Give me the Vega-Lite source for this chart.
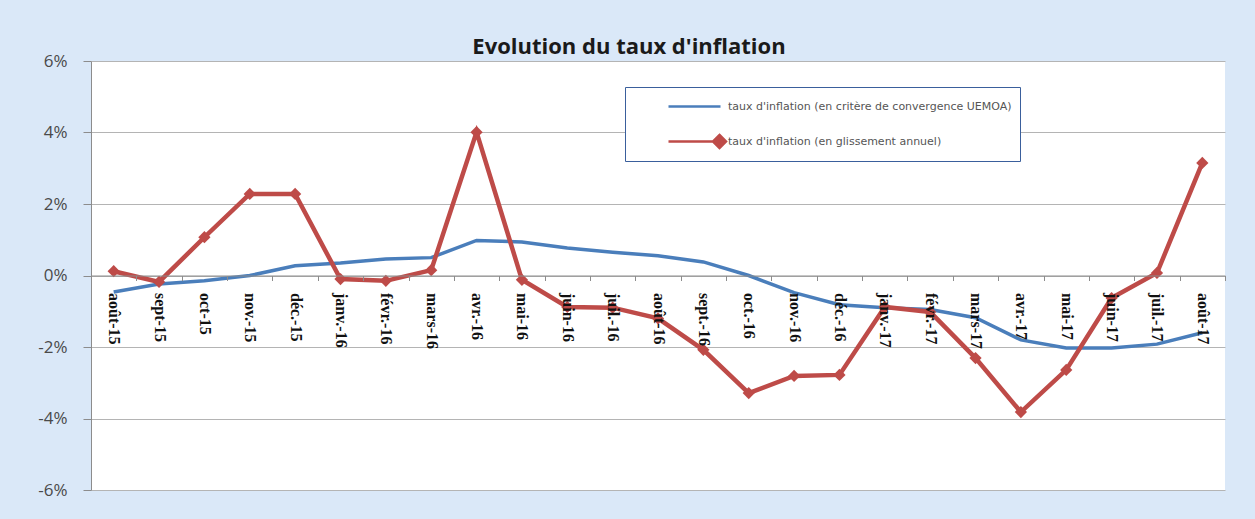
{
  "$schema": "https://vega.github.io/schema/vega-lite/v6.json",
  "autosize": {"type": "none"},
  "padding": {"left": 91, "top": 61, "right": 30, "bottom": 29},
  "width": 1134,
  "height": 429,
  "background": "#dae8f8",
  "title": {"text": "Evolution du taux d'inflation", "font": "Open Sans", "fontSize": 22, "fontWeight": "bold", "color": "#1a1a1a", "anchor": "middle", "dx": -29, "offset": -7},
  "config": {"view": {"fill": "white", "stroke": null}},
  "data": {"values": [
    {"mois": "août-15", "serie": "taux d'inflation (en critère de convergence UEMOA)", "v": -0.46},
    {"mois": "sept-15", "serie": "taux d'inflation (en critère de convergence UEMOA)", "v": -0.24},
    {"mois": "oct-15", "serie": "taux d'inflation (en critère de convergence UEMOA)", "v": -0.15},
    {"mois": "nov.-15", "serie": "taux d'inflation (en critère de convergence UEMOA)", "v": 0.0},
    {"mois": "déc.-15", "serie": "taux d'inflation (en critère de convergence UEMOA)", "v": 0.27},
    {"mois": "janv.-16", "serie": "taux d'inflation (en critère de convergence UEMOA)", "v": 0.35},
    {"mois": "févr.-16", "serie": "taux d'inflation (en critère de convergence UEMOA)", "v": 0.46},
    {"mois": "mars-16", "serie": "taux d'inflation (en critère de convergence UEMOA)", "v": 0.5},
    {"mois": "avr.-16", "serie": "taux d'inflation (en critère de convergence UEMOA)", "v": 0.98},
    {"mois": "mai-16", "serie": "taux d'inflation (en critère de convergence UEMOA)", "v": 0.94},
    {"mois": "juin-16", "serie": "taux d'inflation (en critère de convergence UEMOA)", "v": 0.77},
    {"mois": "juil.-16", "serie": "taux d'inflation (en critère de convergence UEMOA)", "v": 0.65},
    {"mois": "août-16", "serie": "taux d'inflation (en critère de convergence UEMOA)", "v": 0.55},
    {"mois": "sept.-16", "serie": "taux d'inflation (en critère de convergence UEMOA)", "v": 0.38},
    {"mois": "oct.-16", "serie": "taux d'inflation (en critère de convergence UEMOA)", "v": 0.0},
    {"mois": "nov.-16", "serie": "taux d'inflation (en critère de convergence UEMOA)", "v": -0.48},
    {"mois": "déc.-16", "serie": "taux d'inflation (en critère de convergence UEMOA)", "v": -0.82},
    {"mois": "janv.-17", "serie": "taux d'inflation (en critère de convergence UEMOA)", "v": -0.9},
    {"mois": "févr.-17", "serie": "taux d'inflation (en critère de convergence UEMOA)", "v": -0.95},
    {"mois": "mars-17", "serie": "taux d'inflation (en critère de convergence UEMOA)", "v": -1.18},
    {"mois": "avr.-17", "serie": "taux d'inflation (en critère de convergence UEMOA)", "v": -1.8},
    {"mois": "mai-17", "serie": "taux d'inflation (en critère de convergence UEMOA)", "v": -2.03},
    {"mois": "juin-17", "serie": "taux d'inflation (en critère de convergence UEMOA)", "v": -2.03},
    {"mois": "juil.-17", "serie": "taux d'inflation (en critère de convergence UEMOA)", "v": -1.92},
    {"mois": "août-17", "serie": "taux d'inflation (en critère de convergence UEMOA)", "v": -1.6},
    {"mois": "août-15", "serie": "taux d'inflation (en glissement annuel)", "v": 0.12},
    {"mois": "sept-15", "serie": "taux d'inflation (en glissement annuel)", "v": -0.18},
    {"mois": "oct-15", "serie": "taux d'inflation (en glissement annuel)", "v": 1.07},
    {"mois": "nov.-15", "serie": "taux d'inflation (en glissement annuel)", "v": 2.28},
    {"mois": "déc.-15", "serie": "taux d'inflation (en glissement annuel)", "v": 2.28},
    {"mois": "janv.-16", "serie": "taux d'inflation (en glissement annuel)", "v": -0.1},
    {"mois": "févr.-16", "serie": "taux d'inflation (en glissement annuel)", "v": -0.15},
    {"mois": "mars-16", "serie": "taux d'inflation (en glissement annuel)", "v": 0.15},
    {"mois": "avr.-16", "serie": "taux d'inflation (en glissement annuel)", "v": 4.01},
    {"mois": "mai-16", "serie": "taux d'inflation (en glissement annuel)", "v": -0.12},
    {"mois": "juin-16", "serie": "taux d'inflation (en glissement annuel)", "v": -0.88},
    {"mois": "juil.-16", "serie": "taux d'inflation (en glissement annuel)", "v": -0.9},
    {"mois": "août-16", "serie": "taux d'inflation (en glissement annuel)", "v": -1.2},
    {"mois": "sept.-16", "serie": "taux d'inflation (en glissement annuel)", "v": -2.08},
    {"mois": "oct.-16", "serie": "taux d'inflation (en glissement annuel)", "v": -3.29},
    {"mois": "nov.-16", "serie": "taux d'inflation (en glissement annuel)", "v": -2.81},
    {"mois": "déc.-16", "serie": "taux d'inflation (en glissement annuel)", "v": -2.78},
    {"mois": "janv.-17", "serie": "taux d'inflation (en glissement annuel)", "v": -0.88},
    {"mois": "févr.-17", "serie": "taux d'inflation (en glissement annuel)", "v": -1.02},
    {"mois": "mars-17", "serie": "taux d'inflation (en glissement annuel)", "v": -2.31},
    {"mois": "avr.-17", "serie": "taux d'inflation (en glissement annuel)", "v": -3.82},
    {"mois": "mai-17", "serie": "taux d'inflation (en glissement annuel)", "v": -2.64},
    {"mois": "juin-17", "serie": "taux d'inflation (en glissement annuel)", "v": -0.63},
    {"mois": "juil.-17", "serie": "taux d'inflation (en glissement annuel)", "v": 0.07},
    {"mois": "août-17", "serie": "taux d'inflation (en glissement annuel)", "v": 3.15}
  ]},
  "encoding": {
    "x": {"field": "mois", "type": "nominal", "sort": null,
      "axis": {"title": null, "zindex": 1, "offset": -214.5, "domainColor": "#8c8c8c", "domainWidth": 1, "tickBand": "extent", "tickColor": "#8c8c8c", "tickSize": 5,
        "labelAngle": 90, "labelAlign": "left", "labelBaseline": "middle", "labelPadding": 12, "labelFont": "Liberation Serif", "labelFontSize": 16, "labelFontWeight": "bold", "labelColor": "#111111", "grid": false}},
    "y": {"field": "v", "type": "quantitative",
      "scale": {"domain": [-6, 6], "nice": false},
      "axis": {"title": null, "values": [-6, -4, -2, 0, 2, 4, 6], "labelExpr": "datum.value + '%'", "labelFont": "Open Sans", "labelFontSize": 17, "labelColor": "#4a4a4a", "labelPadding": 16,
        "domainColor": "#8c8c8c", "tickColor": "#8c8c8c", "tickSize": 8, "gridColor": "#b4b4b4", "gridWidth": 1}},
    "color": {"field": "serie", "type": "nominal",
      "scale": {"domain": ["taux d'inflation (en critère de convergence UEMOA)", "taux d'inflation (en glissement annuel)"], "range": ["#4a7ebb", "#be4b48"]},
      "legend": {"title": null, "orient": "none", "legendX": 534, "legendY": 26, "fillColor": "white", "strokeColor": "#3a5f9c", "padding": 8,
        "labelFont": "DejaVu Sans", "labelFontSize": 11, "labelColor": "#555555", "labelLimit": 400, "labelOffset": 72, "rowPadding": 18,
        "symbolSize": 400, "symbolStrokeWidth": 2.5,
        "encode": {"symbols": {"update": {"shape": {"signal": "datum.value === 'taux d\\'inflation (en glissement annuel)' ? 'M2.4,0L7.6,0M7.5,-0.65L8.15,0L7.5,0.65L6.85,0Z' : 'M2.4,0L7.6,0'"}, "strokeWidth": {"value": 2.5}}}}}
    }
  },
  "layer": [
    {"transform": [{"filter": "datum.serie === 'taux d\\'inflation (en critère de convergence UEMOA)'"}],
     "mark": {"type": "line", "strokeWidth": 3.5}},
    {"transform": [{"filter": "datum.serie === 'taux d\\'inflation (en glissement annuel)'"}],
     "mark": {"type": "line", "strokeWidth": 4.5}},
    {"transform": [{"filter": "datum.serie === 'taux d\\'inflation (en glissement annuel)'"}],
     "mark": {"type": "point", "shape": "diamond", "filled": true, "size": 150, "opacity": 1}}
  ]
}
